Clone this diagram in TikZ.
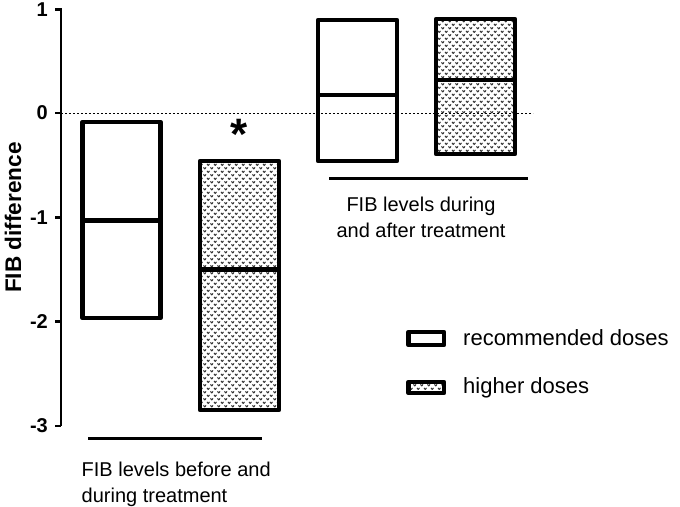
\documentclass[tikz,border=0pt]{standalone}
\usepackage{fontspec}
\setmainfont{Liberation Sans}
\usetikzlibrary{patterns}

% small v marks for the higher doses
\pgfdeclarepatternformonly{vmarks}{\pgfqpoint{-1pt}{-1pt}}{\pgfqpoint{8pt}{8pt}}{\pgfqpoint{7pt}{7pt}}{%
  \pgfsetlinewidth{1pt}
  \pgfpathmoveto{\pgfqpoint{0.5pt}{2.6pt}}
  \pgfpathlineto{\pgfqpoint{1.75pt}{1pt}}
  \pgfpathlineto{\pgfqpoint{3pt}{2.6pt}}
  \pgfpathmoveto{\pgfqpoint{4pt}{6.1pt}}
  \pgfpathlineto{\pgfqpoint{5.25pt}{4.5pt}}
  \pgfpathlineto{\pgfqpoint{6.5pt}{6.1pt}}
  \pgfusepath{stroke}
}

\tikzset{
  recbox/.style={draw, line width=4.5pt, line join=round},
  highbox/.style={recbox, pattern=vmarks, pattern color=black!80},
  midline/.style={line width=4.5pt},
  axisline/.style={line width=2.6pt},
  groupline/.style={line width=2.2pt},
  ticklab/.style={anchor=east, inner sep=0pt, font=\fontsize{20}{20}\selectfont\bfseries},
  grouplab/.style={inner sep=0pt, font=\fontsize{20}{26}\selectfont},
  legendlab/.style={anchor=west, inner sep=0pt, font=\fontsize{22}{22}\selectfont}
}

\begin{document}
\begin{tikzpicture}[x=1pt, y=-1pt]
	\useasboundingbox (0,0) rectangle (680,506);
	% axis
	\draw[axisline] (55,9.5) -- (61,9.5) -- (61,426);
	\foreach \y/\lab in {9.5/1, 113/0, 217.3/-1, 321.6/-2, 426/-3} {
		\draw[axisline] (55,\y) -- (61,\y);
		\node[ticklab] at (48,\y) {\lab};
	}
	\node[rotate=90, font=\fontsize{22.6}{22.6}\selectfont\bfseries] (ylab) at (13,217.5) {FIB difference};
	\draw[line width=1pt, dash pattern=on 2pt off 2pt] (61,113) -- (533,113);
	% before and during treatment
	\draw[recbox] (82.5,122) rectangle (160.5,318);
	\draw[midline] (82.5,220.5) -- (160.5,220.5);
	\draw[highbox] (200,161) rectangle (279,410);
	\draw[midline] (200,269.5) -- (279,269.5);
	\node[inner sep=0pt, anchor=base, font=\fontsize{44}{44}\selectfont\bfseries] (star) at (239.5,149) {*};
	% during and after treatment
	\draw[recbox] (318,20) rectangle (397,161);
	\draw[midline] (318,95) -- (397,95);
	\draw[highbox] (436,19) rectangle (515,154);
	\draw[midline] (436,80) -- (515,80);
	% groups
	\draw[groupline] (88,438.5) -- (262,438.5);
	\node[grouplab, anchor=north west, align=left] (before) at (81.5,461.5) {FIB levels before and\\during treatment};
	\draw[groupline] (329,178.5) -- (528,178.5);
	\node[grouplab, anchor=north, align=center] (after) at (421,196.5) {FIB levels during\\and after treatment};
	% legend
	\draw[recbox] (408.5,332) rectangle (444,345);
	\node[legendlab] (rec) at (463,338) {recommended doses};
	\draw[highbox] (408.5,382) rectangle (444,393);
	\node[legendlab] (high) at (463,388) {higher doses};
\end{tikzpicture}
\end{document}
